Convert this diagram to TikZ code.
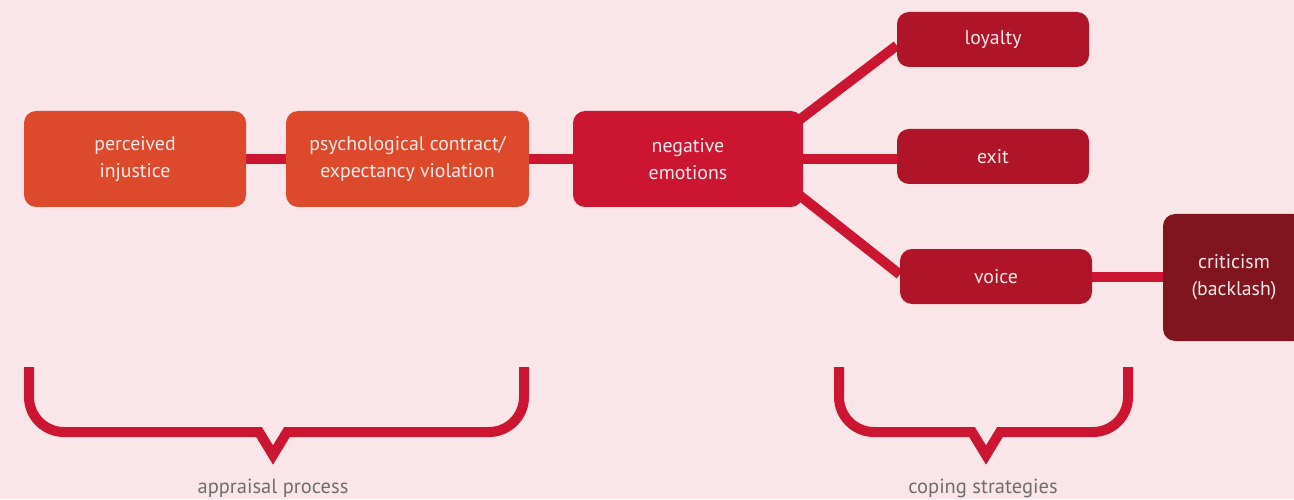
\documentclass[tikz,border=0pt]{standalone}
\usepackage{fontspec}
\setmainfont{PT Sans}
\pgfdeclarelayer{back}
\pgfdeclarelayer{mid}
\pgfsetlayers{back,mid,main}
\definecolor{bgpink}{HTML}{FAE6E8}
\definecolor{orangebox}{HTML}{DC4A2B}
\definecolor{crimson}{HTML}{CB1531}
\definecolor{darkred}{HTML}{AF1428}
\definecolor{darkerred}{HTML}{80151F}
\definecolor{labelgray}{HTML}{6E6E6E}
\definecolor{boxtext}{HTML}{FBE9EB}
\tikzset{
  box/.style={rectangle, rounded corners=12pt, inner sep=0pt, text=boxtext,
    align=center, font=\fontsize{19.8}{27}\selectfont},
  conn/.style={draw=crimson, line width=10pt},
  brace/.style={draw=crimson, line width=10pt, line join=miter},
  lbl/.style={text=labelgray, font=\fontsize{20.5}{24}\selectfont}
}
\begin{document}
\begin{tikzpicture}[x=1pt,y=1pt]
\begin{pgfonlayer}{back}
\fill[bgpink] (0,0) rectangle (1294,499);
\end{pgfonlayer}
\useasboundingbox (0,0) rectangle (1294,499);

\node[box, fill=orangebox, minimum width=222pt, minimum height=96pt] (pi) at (135,340) {perceived\\injustice};
\node[box, fill=orangebox, minimum width=243pt, minimum height=96pt] (pc) at (407.5,340) {psychological contract/\\expectancy violation};
\node[box, fill=crimson, minimum width=230pt, minimum height=96pt] (ne) at (688,340) {negative\\emotions};
\node[box, fill=darkred, minimum width=192pt, minimum height=55pt] (loy) at (993,459.5) {loyalty};
\node[box, fill=darkred, minimum width=192pt, minimum height=55pt] (ex) at (993,342.5) {exit};
\node[box, fill=darkred, minimum width=192pt, minimum height=55pt] (vo) at (996,222.5) {voice};
\node[box, fill=darkerred, minimum width=142pt, minimum height=127pt] (cr) at (1234,221.5) {criticism\\(backlash)};

\begin{pgfonlayer}{mid}
\draw[conn] (pi.east) -- (pc.west);
\draw[conn] (pc.east) -- (ne.west);
\draw[conn] ([xshift=-4pt,yshift=39pt]ne.east) -- ([yshift=-6pt]loy.west);
\draw[conn] (ne.east) -- (ne.east -| ex.west);
\draw[conn] ([xshift=-4pt,yshift=-36pt]ne.east) -- ([yshift=2pt]vo.west);
\draw[conn] (vo.east) -- (vo.east -| cr.west);
\end{pgfonlayer}

\draw[brace] (29,132) -- (29,102) arc(180:270:35) -- (259,67) -- (273,44) -- (287,67) -- (489,67) arc(270:360:35) -- (524,132);
\draw[brace] (839,132) -- (839,102) arc(180:270:35) -- (972,67) -- (986,44) -- (1000,67) -- (1093,67) arc(270:360:35) -- (1128,132);

\node[lbl] (ap) at (273,11) {appraisal process};
\node[lbl] (cs) at (983,11) {coping strategies};
\end{tikzpicture}
\end{document}
